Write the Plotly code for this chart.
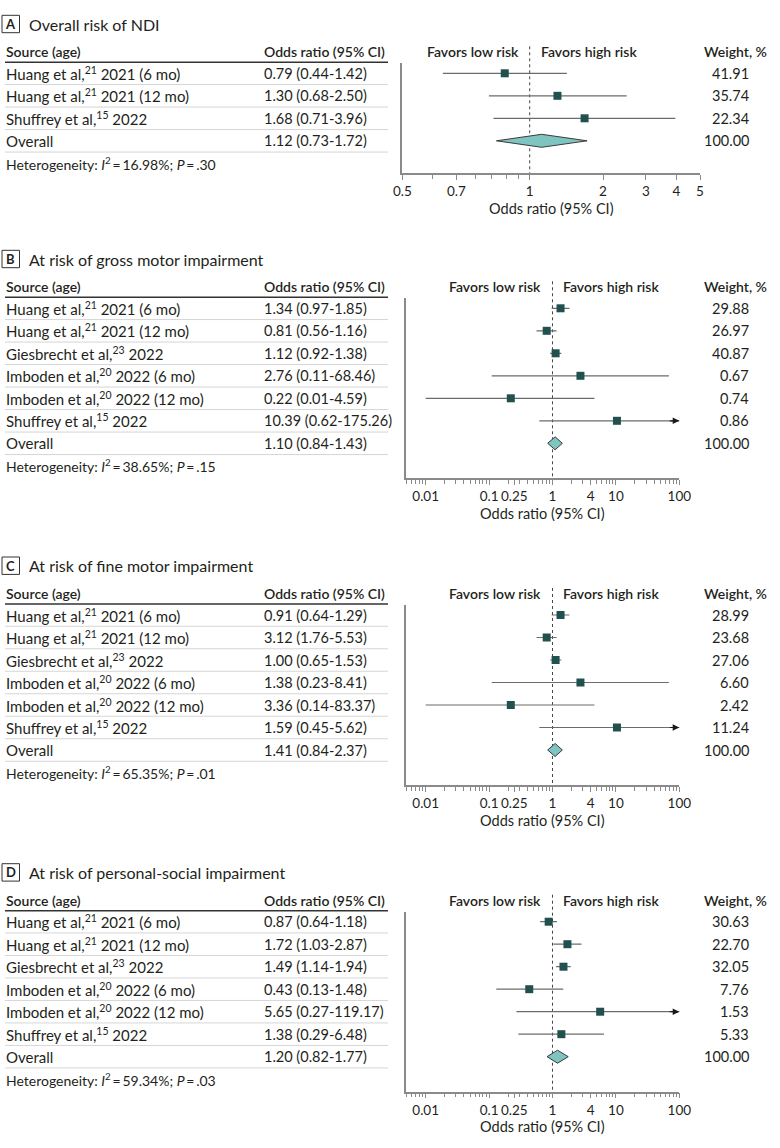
import math
import plotly.graph_objects as go

W, H = 780, 1148
FONT = "Lato"
TXT = "#231f20"
MARK = "#22504f"
CI_COL = "#6b6b6b"
DIA_FILL = "#7ec4c0"
AX_COL = "#8a8a8a"

# ------------------------------------------------------------------ data
letters = ["A", "B", "C", "D"]
titles = ["Overall risk of NDI",
          "At risk of gross motor impairment",
          "At risk of fine motor impairment",
          "At risk of personal-social impairment"]

src_A = ["Huang et al,<sup>21</sup> 2021 (6 mo)",
         "Huang et al,<sup>21</sup> 2021 (12 mo)",
         "Shuffrey et al,<sup>15</sup> 2022",
         "Overall"]
src_BCD = ["Huang et al,<sup>21</sup> 2021 (6 mo)",
           "Huang et al,<sup>21</sup> 2021 (12 mo)",
           "Giesbrecht et al,<sup>23</sup> 2022",
           "Imboden et al,<sup>20</sup> 2022 (6 mo)",
           "Imboden et al,<sup>20</sup> 2022 (12 mo)",
           "Shuffrey et al,<sup>15</sup> 2022",
           "Overall"]

or_A = [0.79, 1.30, 1.68, 1.12]
lo_A = [0.44, 0.68, 0.71, 0.73]
hi_A = [1.42, 2.50, 3.96, 1.72]
wt_A = [41.91, 35.74, 22.34, 100.00]
het_A = ("16.98%", ".30")

or_B = [1.34, 0.81, 1.12, 2.76, 0.22, 10.39, 1.10]
lo_B = [0.97, 0.56, 0.92, 0.11, 0.01, 0.62, 0.84]
hi_B = [1.85, 1.16, 1.38, 68.46, 4.59, 175.26, 1.43]
wt_B = [29.88, 26.97, 40.87, 0.67, 0.74, 0.86, 100.00]
het_B = ("38.65%", ".15")

or_C = [0.91, 3.12, 1.00, 1.38, 3.36, 1.59, 1.41]
lo_C = [0.64, 1.76, 0.65, 0.23, 0.14, 0.45, 0.84]
hi_C = [1.29, 5.53, 1.53, 8.41, 83.37, 5.62, 2.37]
wt_C = [28.99, 23.68, 27.06, 6.60, 2.42, 11.24, 100.00]
het_C = ("65.35%", ".01")
# markers drawn in panel C of the picture (read from the graphic itself)
plot_or_C = [1.34, 0.81, 1.12, 2.76, 0.22, 10.39, 1.10]
plot_lo_C = [0.97, 0.56, 0.92, 0.11, 0.01, 0.62, 0.84]
plot_hi_C = [1.85, 1.16, 1.38, 68.46, 4.59, 175.26, 1.43]

or_D = [0.87, 1.72, 1.49, 0.43, 5.65, 1.38, 1.20]
lo_D = [0.64, 1.03, 1.14, 0.13, 0.27, 0.29, 0.82]
hi_D = [1.18, 2.87, 1.94, 1.48, 119.17, 6.48, 1.77]
wt_D = [30.63, 22.70, 32.05, 7.76, 1.53, 5.33, 100.00]
het_D = ("59.34%", ".03")

ticks_A = [0.3, 0.5, 1, 2, 3, 4, 5]
ticktext_A = ["0.5", "0.7", "1", "2", "3", "4", "5"]
minor_A = [0.4, 0.6, 0.7, 0.8, 0.9]
ticks_W = [0.01, 0.1, 0.25, 1, 4, 10, 100]
ticktext_W = ["0.01", "0.1", "0.25", "1", "4", "10", "100"]

# ------------------------------------------------------------------ layout constants
PITCH = 22.5
FS_SRC = 15
FS_NUM = 14.5
FS_HET = 14
FS_BOLD = 14
FS_TICK = 13.5
panels = [
    dict(src=src_A, est=or_A, lo=lo_A, hi=hi_A, wt=wt_A, het=het_A,
         p_est=or_A, p_lo=lo_A, p_hi=hi_A,
         row0=73.3, axis=173.3, xd=(402.3, 700.0), xr=(0.3, 5.0),
         tv=ticks_A, tt=ticktext_A, minor=minor_A),
    dict(src=src_BCD, est=or_B, lo=lo_B, hi=hi_B, wt=wt_B, het=het_B,
         p_est=or_B, p_lo=lo_B, p_hi=hi_B,
         row0=308.3, axis=478.3, xd=(405.7, 679.3), xr=(0.00484, 100.0),
         tv=ticks_W, tt=ticktext_W, minor=None),
    dict(src=src_BCD, est=or_C, lo=lo_C, hi=hi_C, wt=wt_C, het=het_C,
         p_est=plot_or_C, p_lo=plot_lo_C, p_hi=plot_hi_C,
         row0=615.0, axis=785.0, xd=(405.7, 679.3), xr=(0.00484, 100.0),
         tv=ticks_W, tt=ticktext_W, minor=None),
    dict(src=src_BCD, est=or_D, lo=lo_D, hi=hi_D, wt=wt_D, het=het_D,
         p_est=or_D, p_lo=lo_D, p_hi=hi_D,
         row0=921.7, axis=1091.7, xd=(405.7, 679.3), xr=(0.00484, 100.0),
         tv=ticks_W, tt=ticktext_W, minor=None),
]


def px(x):
    return x / W


def py(y):
    return 1 - y / H


def wide_minor(xr):
    vals = []
    for e in range(-3, 2):
        for m in range(2, 10):
            v = round(m * 10 ** e, 6)
            if xr[0] <= v <= xr[1] and v not in ticks_W:
                vals.append(v)
    return vals


fig = go.Figure()
annotations = []
shapes = []
layout_axes = {}


def text(x, y, s, anchor="left", size=FS_SRC, bold=False, color=TXT):
    font = dict(family=FONT, size=size, color=color)
    if bold:
        font.update(size=FS_BOLD, weight=600)
    annotations.append(dict(x=px(x), y=py(y), xref="paper", yref="paper",
                            text=s, showarrow=False, xanchor=anchor,
                            yanchor="middle", borderpad=0, font=font))


for i, p in enumerate(panels):
    n = i + 1
    xa = "x" if n == 1 else f"x{n}"
    ya = "y" if n == 1 else f"y{n}"
    row0, axis_px = p["row0"], p["axis"]
    nrows = len(p["src"])
    top_px = row0 - 10
    yrange = [-(axis_px - row0) / PITCH, 10 / PITCH]
    lr = (math.log10(p["xr"][0]), math.log10(p["xr"][1]))
    minor_vals = p["minor"] if p["minor"] is not None else wide_minor(p["xr"])

    layout_axes["xaxis" if n == 1 else f"xaxis{n}"] = dict(
        type="log", domain=[px(p["xd"][0]), px(p["xd"][1])], range=list(lr),
        anchor=ya, showline=True, linecolor=AX_COL, linewidth=1.5,
        showgrid=False, zeroline=False, ticks="outside", ticklen=5,
        tickcolor=AX_COL, tickwidth=1, tickmode="array", tickvals=p["tv"],
        ticktext=p["tt"], tickangle=0, automargin=False,
        tickfont=dict(family=FONT, size=FS_TICK, color=TXT),
        minor=dict(tickmode="array", tickvals=minor_vals, ticks="outside",
                   ticklen=4, tickcolor=AX_COL, tickwidth=1, showgrid=False),
        fixedrange=True)
    layout_axes["yaxis" if n == 1 else f"yaxis{n}"] = dict(
        domain=[py(axis_px), py(top_px)], range=yrange, anchor=xa,
        showline=True, linecolor=AX_COL, linewidth=1.5, showgrid=False,
        zeroline=False, showticklabels=False, ticks="", fixedrange=True,
        automargin=False)

    # pixel position of OR = 1 through the axis scale
    x1_px = p["xd"][0] + (0 - lr[0]) / (lr[1] - lr[0]) * (p["xd"][1] - p["xd"][0])

    # reference line at 1
    shapes.append(dict(type="line", xref="paper", yref="paper",
                       x0=px(x1_px), x1=px(x1_px), y0=py(row0 - 27), y1=py(axis_px),
                       line=dict(color="#444", width=1, dash="dot"), layer="below"))

    # CI lines
    xs, ys = [], []
    for k in range(nrows - 1):
        xs += [p["p_lo"][k], p["p_hi"][k], None]
        ys += [-k, -k, None]
    fig.add_trace(go.Scatter(x=xs, y=ys, mode="lines", xaxis=xa, yaxis=ya,
                             line=dict(color=CI_COL, width=1.2), hoverinfo="skip",
                             showlegend=False))
    # arrows for CIs beyond axis
    for k in range(nrows - 1):
        if p["p_hi"][k] > p["xr"][1]:
            annotations.append(dict(x=lr[1], y=-k, xref=xa, yref=ya, ax=-11, ay=0,
                                    text="", showarrow=True, arrowhead=2,
                                    arrowsize=1.1, arrowwidth=1.2, arrowcolor="#1a1a1a",
                                    standoff=0))
    # study markers
    fig.add_trace(go.Scatter(x=p["p_est"][:-1], y=[-k for k in range(nrows - 1)],
                             mode="markers", xaxis=xa, yaxis=ya, cliponaxis=False,
                             marker=dict(symbol="square", size=8, color=MARK,
                                         line=dict(width=0)),
                             hoverinfo="skip", showlegend=False))
    # overall diamond
    k = nrows - 1
    hh = 6.5 / PITCH
    fig.add_trace(go.Scatter(
        x=[p["p_lo"][k], p["p_est"][k], p["p_hi"][k], p["p_est"][k], p["p_lo"][k]],
        y=[-k, -k + hh, -k, -k - hh, -k], mode="lines", fill="toself",
        fillcolor=DIA_FILL, line=dict(color="#3a3a3a", width=1),
        xaxis=xa, yaxis=ya, hoverinfo="skip", showlegend=False))

    # ---- panel title
    ty = row0 - 49.3
    shapes.append(dict(type="rect", xref="paper", yref="paper",
                       x0=px(2), x1=px(19.5), y0=py(ty - 8.7), y1=py(ty + 8.7),
                       line=dict(color="#333", width=1), fillcolor="white"))
    annotations.append(dict(x=px(10.8), y=py(ty), xref="paper", yref="paper",
                            text="<b>" + letters[i] + "</b>", showarrow=False,
                            xanchor="center", yanchor="middle",
                            font=dict(family=FONT, size=13, color=TXT)))
    text(27.5, ty, titles[i], size=16)

    # ---- header
    hy = row0 - 21.6
    text(5, hy, "Source (age)", bold=True)
    text(263, hy, "Odds ratio (95% CI)", bold=True)
    text(x1_px - 10, hy, "Favors low risk", anchor="right", bold=True)
    text(x1_px + 10, hy, "Favors high risk", anchor="left", bold=True)
    text(767.5, hy, "Weight, %", anchor="right", bold=True)
    shapes.append(dict(type="line", xref="paper", yref="paper",
                       x0=px(5), x1=px(388), y0=py(row0 - 11), y1=py(row0 - 11),
                       line=dict(color="#333", width=1.5)))

    # ---- rows
    for k in range(nrows):
        ry = row0 + k * PITCH
        text(5, ry, p["src"][k])
        text(263, ry, f"{p['est'][k]:.2f} ({p['lo'][k]:.2f}-{p['hi'][k]:.2f})", size=FS_NUM)
        text(750, ry, f"{p['wt'][k]:.2f}", anchor="right", size=FS_NUM)
        shapes.append(dict(type="line", xref="paper", yref="paper",
                           x0=px(5), x1=px(388), y0=py(ry + 11.25), y1=py(ry + 11.25),
                           line=dict(color="#d6d6d6", width=1)))
    hy2 = row0 + nrows * PITCH
    text(5, hy2, "Heterogeneity: <i>I</i><sup>2</sup>\u2009=\u2009" + p["het"][0]
         + "; <i>P</i>\u2009=\u2009" + p["het"][1], size=FS_HET)

    # ---- axis title
    text((p["xd"][0] + p["xd"][1]) / 2, axis_px + 35, "Odds ratio (95% CI)",
         anchor="center", size=FS_NUM)

fig.update_layout(
    width=W, height=H, margin=dict(l=0, r=0, t=0, b=0, pad=0, autoexpand=False),
    paper_bgcolor="white", plot_bgcolor="rgba(0,0,0,0)",
    annotations=annotations, shapes=shapes, showlegend=False,
    font=dict(family=FONT, size=FS_SRC, color=TXT),
    **layout_axes)

fig.write_html("out.html", config={"displayModeBar": False},
               post_script="document.body.style.margin='0px';")
